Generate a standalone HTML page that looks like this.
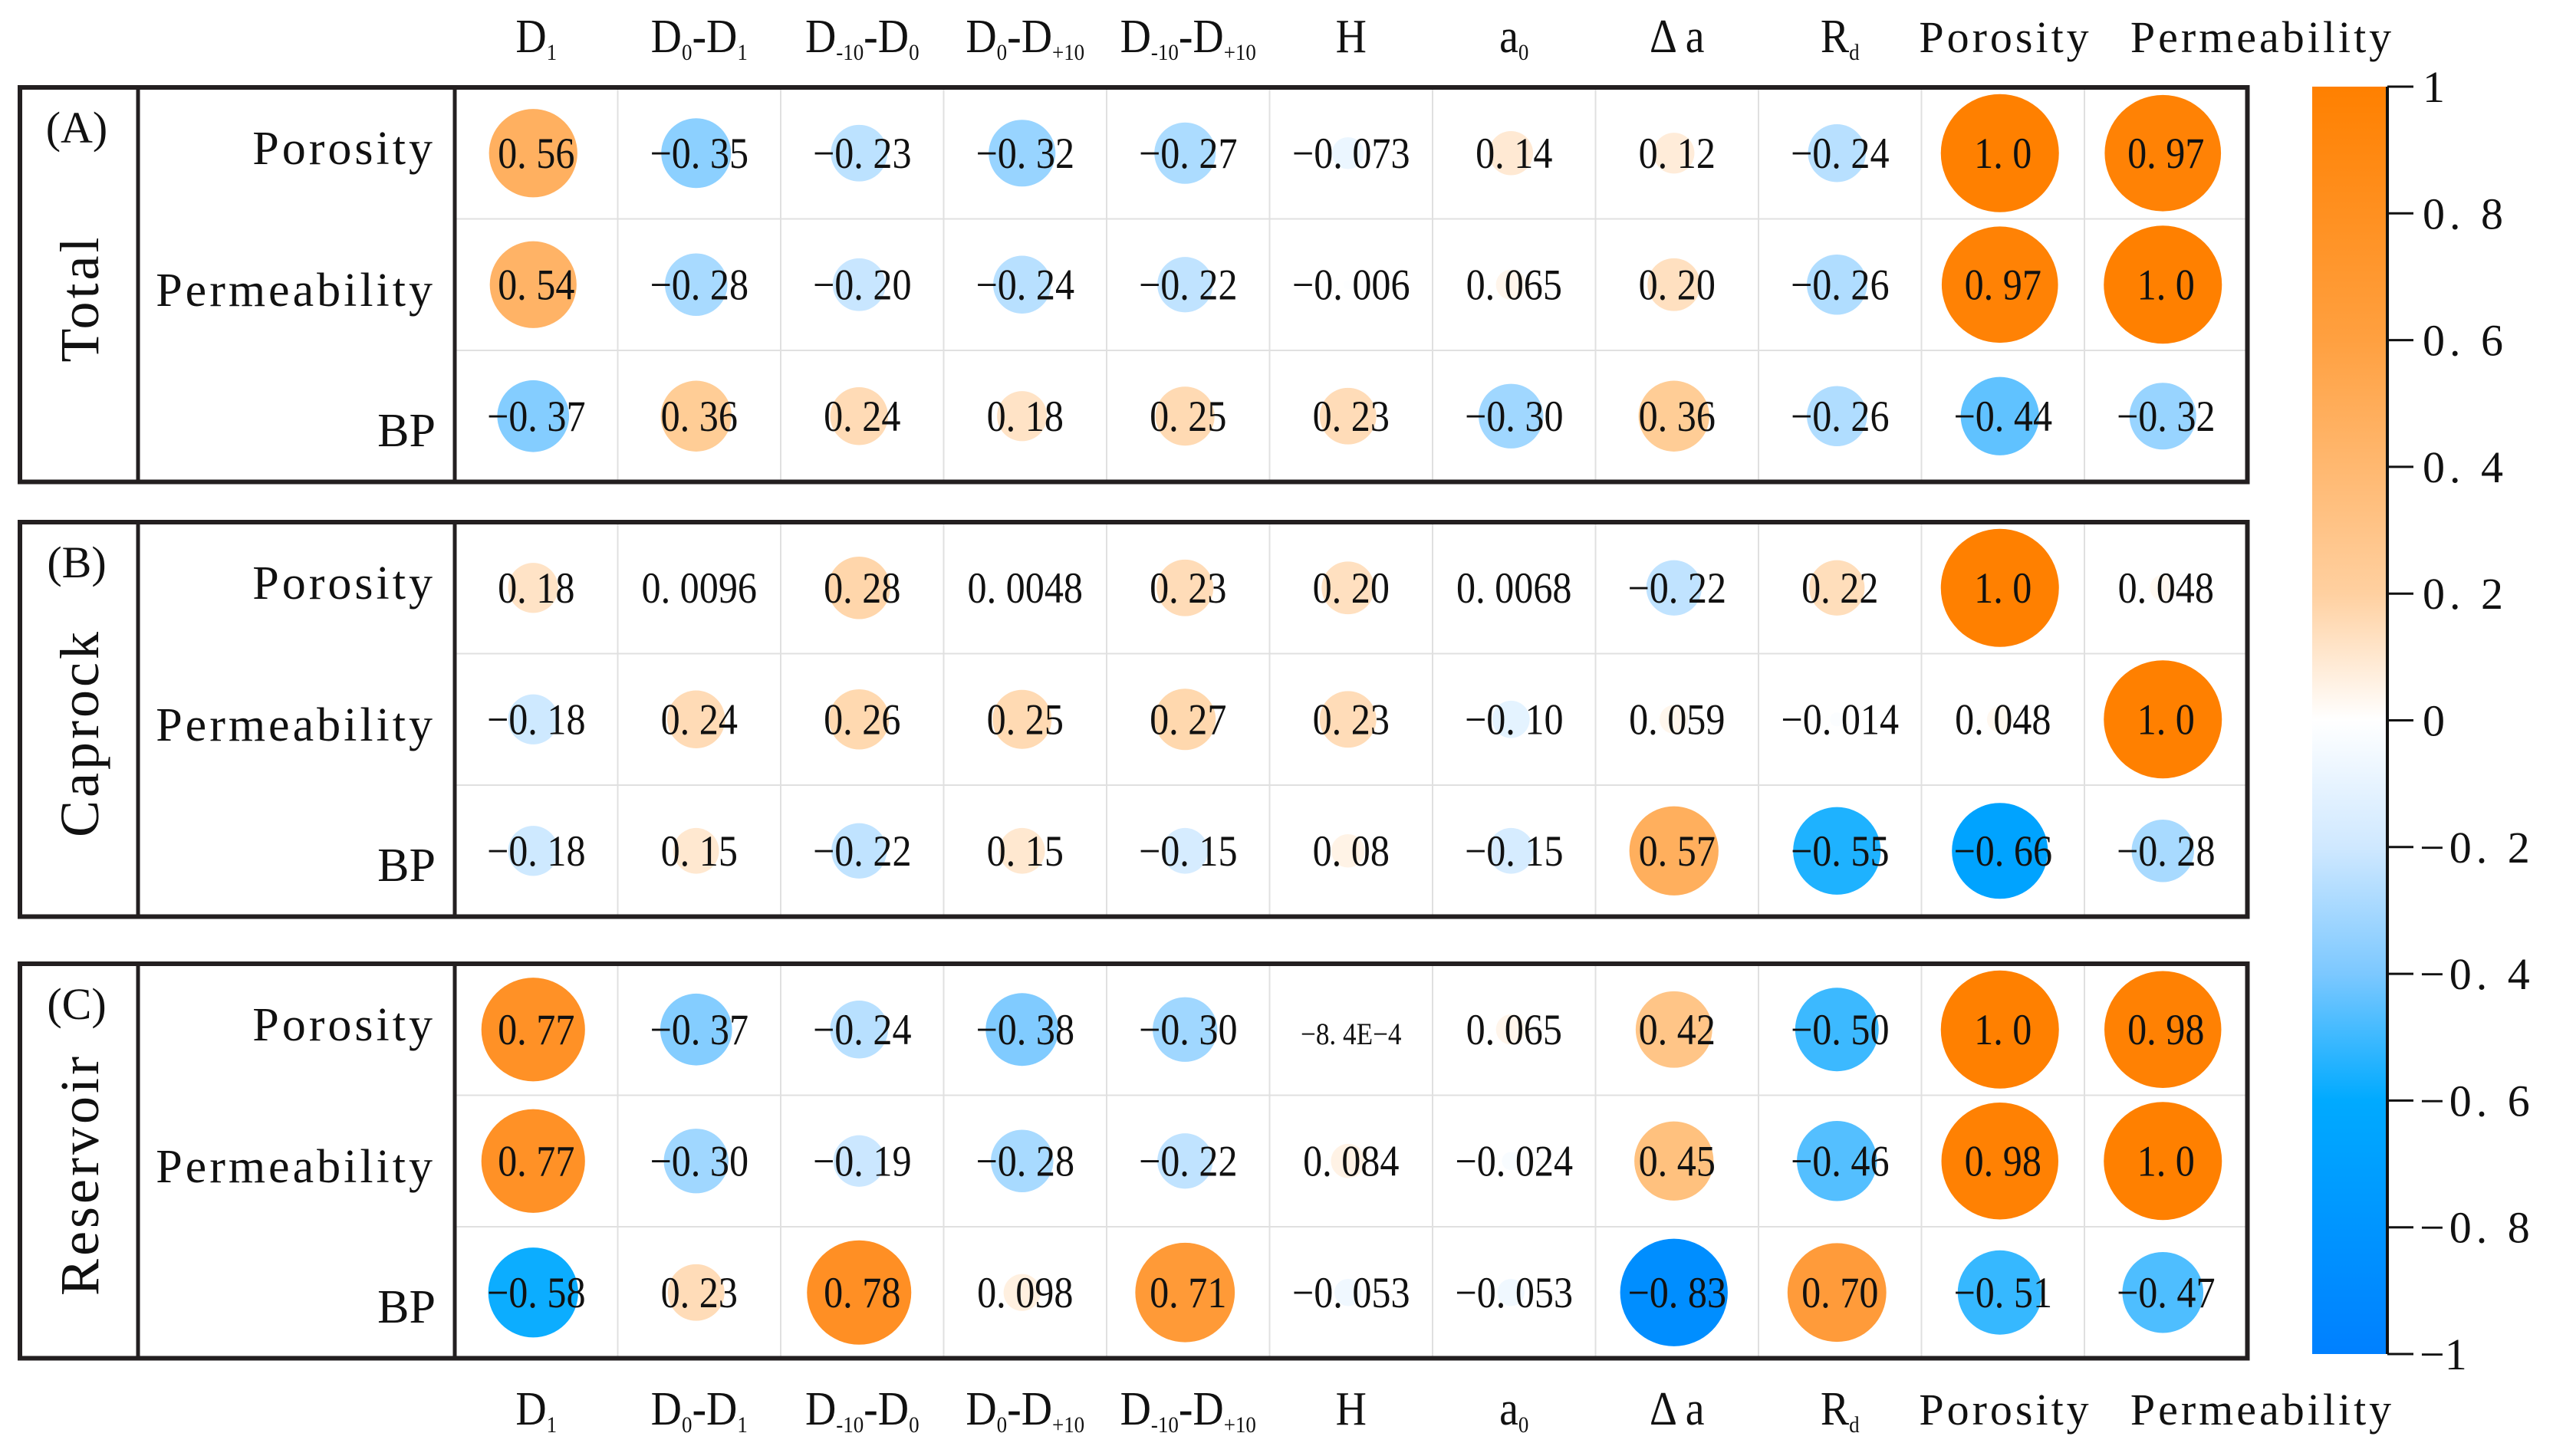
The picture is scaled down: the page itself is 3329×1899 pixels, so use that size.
<!DOCTYPE html>
<html><head><meta charset="utf-8"><style>
html,body{margin:0;padding:0;background:#fff;}
svg{display:block;}
text{font-family:"Liberation Serif",serif;fill:#111;}
</style></head><body>
<svg id="chart" width="3329" height="1899" viewBox="0 0 3329 1899" xmlns="http://www.w3.org/2000/svg">
<defs>
<linearGradient id="cbg" x1="0" y1="0" x2="0" y2="1">
<stop offset="0" stop-color="#ff8000"/>
<stop offset="0.2" stop-color="#ffa040"/>
<stop offset="0.4" stop-color="#ffd0a0"/>
<stop offset="0.5" stop-color="#ffffff"/>
<stop offset="0.6" stop-color="#cfe8ff"/>
<stop offset="0.7" stop-color="#7cc8ff"/>
<stop offset="0.8" stop-color="#00aaff"/>
<stop offset="1" stop-color="#0080ff"/>
</linearGradient>
</defs>
<g id="layer"></g>
</svg>
<script>
const columns = ["D1","D0-D1","D-10-D0","D0-D+10","D-10-D+10","H","a0","Δa","Rd","Porosity","Permeability"];
const rowNames = ["Porosity","Permeability","BP"];
const panelNames = ["Total","Caprock","Reservoir"];
const panelTags = ["(A)","(B)","(C)"];
const totalValues = [
 [0.56,-0.35,-0.23,-0.32,-0.27,-0.073,0.14,0.12,-0.24,1.0,0.97],
 [0.54,-0.28,-0.20,-0.24,-0.22,-0.006,0.065,0.20,-0.26,0.97,1.0],
 [-0.37,0.36,0.24,0.18,0.25,0.23,-0.30,0.36,-0.26,-0.44,-0.32]];
const caprockValues = [
 [0.18,0.0096,0.28,0.0048,0.23,0.20,0.0068,-0.22,0.22,1.0,0.048],
 [-0.18,0.24,0.26,0.25,0.27,0.23,-0.10,0.059,-0.014,0.048,1.0],
 [-0.18,0.15,-0.22,0.15,-0.15,0.08,-0.15,0.57,-0.55,-0.66,-0.28]];
const reservoirValues = [
 [0.77,-0.37,-0.24,-0.38,-0.30,-0.00084,0.065,0.42,-0.50,1.0,0.98],
 [0.77,-0.30,-0.19,-0.28,-0.22,0.084,-0.024,0.45,-0.46,0.98,1.0],
 [-0.58,0.23,0.78,0.098,0.71,-0.053,-0.053,-0.83,0.70,-0.51,-0.47]];
const colorbarTicks = [1,0.8,0.6,0.4,0.2,0,-0.2,-0.4,-0.6,-0.8,-1];

const NS="http://www.w3.org/2000/svg";
const layer=document.getElementById('layer');
function mk(tag,attrs,parent){const e=document.createElementNS(NS,tag);for(const k in attrs)e.setAttribute(k,attrs[k]);(parent||layer).appendChild(e);return e;}

const gridX0=593, colW=212.5, nCols=columns.length;
const panelTops=[114,681,1257], rowH=171.5;
const panelRight=gridX0+nCols*colW;
const xCenter=i=>gridX0+(i+0.5)*colW;
const yCenter=(p,r)=>panelTops[p]+(r+0.5)*rowH;
const rMax=77;
const radius=v=>rMax*Math.sqrt(Math.abs(v));
function lerp(a,b,t){return a.map((x,i)=>Math.round(x+(b[i]-x)*t));}
const stopsPos=[[0,[255,255,255]],[0.2,[255,224,192]],[0.4,[255,200,140]],[0.6,[255,170,85]],[0.8,[255,140,30]],[1,[255,128,0]]];
const stopsNeg=[[0,[255,255,255]],[0.2,[200,230,255]],[0.4,[120,200,255]],[0.6,[0,170,255]],[0.8,[0,145,255]],[1,[0,128,255]]];
function color(v){const s=v>=0?stopsPos:stopsNeg;const a=Math.min(1,Math.abs(v));for(let i=1;i<s.length;i++){if(a<=s[i][0]){const t=(a-s[i-1][0])/(s[i][0]-s[i-1][0]);const c=lerp(s[i-1][1],s[i][1],t);return `rgb(${c[0]},${c[1]},${c[2]})`;}}return 'rgb(255,128,0)';}
function fmt(v){
  let s;
  const a=Math.abs(v);
  if(a<0.001&&v!==0) s=v.toExponential(1).replace('e','E');
  else if(a===1) s=v.toFixed(1);
  else if(a>=0.1) s=v.toFixed(2);
  else s=String(v);
  return s.replace(/-/g,'−').replace('.', '. ');
}
const panels=[totalValues,caprockValues,reservoirValues];

function colLabel(i,y,parent){
  const name=columns[i];
  const wide=(name==="Porosity"||name==="Permeability");
  let x=xCenter(i);
  if(name==="Permeability") x=2950;
  if(name==="Porosity") x=2615;
  const g=mk('g',{transform:wide?`translate(${x},${y})`:`translate(${x},${y}) scale(0.9,1)`},parent);
  
  
  const t=mk('text',{x:0,y:0,'text-anchor':'middle','font-size':wide?58:62},g);
  const parts={"D1":[["D",""],["1","s"]],"D0-D1":[["D",""],["0","s"],["-D",""],["1","s"]],
   "D-10-D0":[["D",""],["-10","s"],["-D",""],["0","s"]],"D0-D+10":[["D",""],["0","s"],["-D",""],["+10","s"]],
   "D-10-D+10":[["D",""],["-10","s"],["-D",""],["+10","s"]],"a0":[["a",""],["0","s"]],"Rd":[["R",""],["d","s"]],"Δa":[["Δ a",""]]}[name]||[[name,""]];
  let sub=false;
  for(const [s,k] of parts){
    let dy=0;
    if(k&&!sub){dy=10;sub=true;}
    else if(!k&&sub){dy=-10;sub=false;}
    const ts=mk('tspan',{dy:dy,'font-size':k?30:(wide?58:62)},t);
    ts.textContent=s;
  }
  if(wide){t.setAttribute('letter-spacing','4');}
}
const topLabels=mk('g',{});


const botLabels=mk('g',{});


for(let i=0;i<nCols;i++){colLabel(i,68,topLabels);colLabel(i,1858,botLabels);}

panels.forEach((vals,p)=>{
  const y0=panelTops[p], y1=y0+3*rowH;
  const pg=mk('g',{});
  
  
  for(let c=1;c<nCols;c++){mk('line',{x1:gridX0+c*colW,x2:gridX0+c*colW,y1:y0,y2:y1,stroke:'#e0e0e0','stroke-width':2},pg);}
  for(let r=1;r<3;r++){mk('line',{x1:gridX0,x2:panelRight,y1:y0+r*rowH,y2:y0+r*rowH,stroke:'#e0e0e0','stroke-width':2},pg);}
  vals.forEach((row,r)=>row.forEach((v,c)=>{
    const cx=xCenter(c)-4, cy=yCenter(p,r);
    const circ=mk('circle',{cx:cx,cy:cy,r:radius(v),fill:color(v)},pg);
    
    
    const g=mk('g',{transform:`translate(${xCenter(c)},${cy+19}) scale(0.88,1)`},pg);
    const t=mk('text',{x:0,y:0,'text-anchor':'middle','font-size':Math.abs(v)<0.001&&v!==0?40:57},g);
    t.textContent=fmt(v);
    
    
  }));
  rowNames.forEach((n,r)=>{
    const yy = r===0? y0+100 : r===1? y0+285 : y0+468;
    const t=mk('text',{x:568,y:yy,'text-anchor':'end','font-size':62,'letter-spacing':r===2?0:4},pg);
    t.textContent=n;
    
    
  });
  mk('rect',{x:26,y:y0,width:panelRight-26,height:3*rowH,fill:'none',stroke:'#231f20','stroke-width':6},pg);
  mk('line',{x1:180,x2:180,y1:y0,y2:y1,stroke:'#231f20','stroke-width':5},pg);
  mk('line',{x1:gridX0,x2:gridX0,y1:y0,y2:y1,stroke:'#231f20','stroke-width':5},pg);
  const tag=mk('text',{x:100,y:y0+72,'text-anchor':'middle','font-size':58},pg);
  tag.textContent=panelTags[p];
  
  
  const gl=mk('text',{x:0,y:0,'text-anchor':'middle','font-size':72,'letter-spacing':4,transform:`translate(128,${y0+275}) rotate(-90)`},pg);
  gl.textContent=panelNames[p];
  
  
});

const cb=mk('g',{});


const cbX=3015, cbW=98, cbY0=113, cbY1=1766;
mk('rect',{x:cbX,y:cbY0,width:cbW,height:cbY1-cbY0,fill:'url(#cbg)'},cb);
mk('line',{x1:cbX+cbW,x2:cbX+cbW,y1:cbY0,y2:cbY1,stroke:'#111','stroke-width':4},cb);
const cbY=v=>cbY0+(1-v)/2*(cbY1-cbY0);
colorbarTicks.forEach(v=>{
  const y=cbY(v);
  mk('line',{x1:cbX+cbW,x2:cbX+cbW+34,y1:y,y2:y,stroke:'#111','stroke-width':3},cb);
  const t=mk('text',{x:cbX+cbW+(v<0?42:46),y:y+20,'font-size':58,'letter-spacing':v===0||Math.abs(v)===1?0:6},cb);
  t.textContent=(v<0?'−':'')+(Math.abs(v)===1||v===0?String(Math.abs(v)):String(Math.abs(v)).replace('.','. '));
  
  
});
</script>
</body></html>
